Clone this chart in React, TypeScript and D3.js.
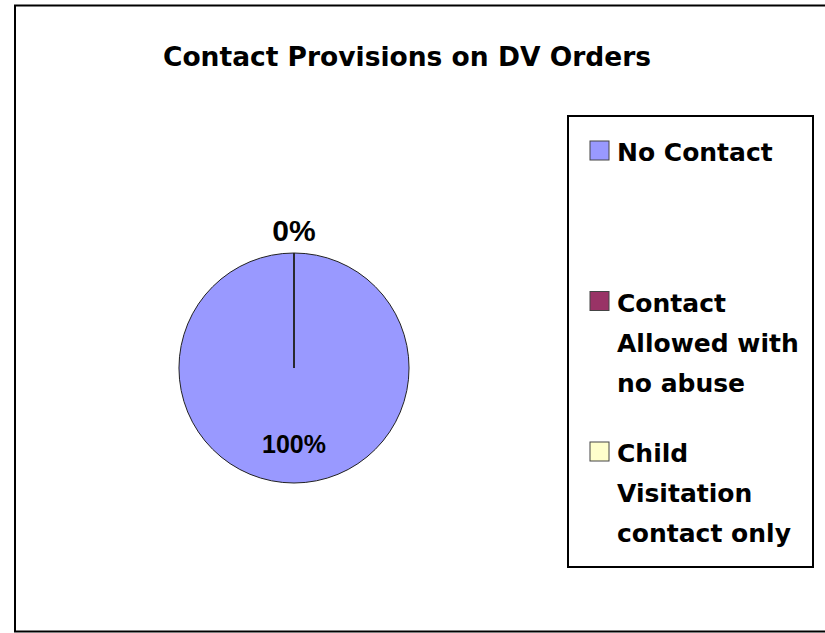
import { useEffect, useRef } from "react"
import * as d3 from "d3"

const categories = ["No Contact", "Contact Allowed with no abuse", "Child Visitation contact only"]
const legendLines = [["No Contact"], ["Contact", "Allowed with", "no abuse"], ["Child", "Visitation", "contact only"]]
const values = [100, 0, 0]
const colors = ["#9999FF", "#993366", "#FFFFCC"]
const title = "Contact Provisions on DV Orders"

export default function App() {
  const svgRef = useRef<SVGSVGElement>(null)

  useEffect(() => {
    if (!svgRef.current) return
    const width = 825
    const height = 633
    const svg = d3.select(svgRef.current)
    svg.selectAll("*").remove()
    svg.attr("width", width).attr("height", height)

    const comic = "'DejaVu Sans', sans-serif"

    // chart area border
    svg
      .append("rect")
      .attr("x", 15)
      .attr("y", 5.5)
      .attr("width", 830)
      .attr("height", 626)
      .attr("fill", "white")
      .attr("stroke", "black")
      .attr("stroke-width", 2)

    svg
      .append("text")
      .attr("x", 407)
      .attr("y", 66)
      .attr("text-anchor", "middle")
      .style("font-family", comic)
      .style("font-weight", "bold")
      .style("font-size", "26.5px")
      .text(title)

    // pie
    const cx = 294
    const cy = 368
    const r = 115
    const total = d3.sum(values)
    const pie = d3.pie<number>().sort(null).value((d) => d)
    const arcs = pie(values)
    const arc = d3.arc<d3.PieArcDatum<number>>().innerRadius(0).outerRadius(r)

    const g = svg.append("g").attr("transform", `translate(${cx},${cy})`)

    g.selectAll("path")
      .data(arcs)
      .enter()
      .append("path")
      .attr("d", arc)
      .attr("fill", (_, i) => colors[i])
      .attr("stroke", "#222")
      .attr("stroke-width", 1)

    // labels: big slices inside, empty slices outside (one label per position)
    const seen = new Set<string>()
    arcs.forEach((a) => {
      const mid = (a.startAngle + a.endAngle) / 2
      const pct = Math.round((a.value / total) * 100)
      const inside = a.endAngle - a.startAngle > 0.5
      const lr = inside ? r * 0.66 : r + 12
      const x = Math.sin(mid) * lr
      const y = -Math.cos(mid) * lr
      const key = `${x.toFixed(1)},${y.toFixed(1)}`
      if (seen.has(key)) return
      seen.add(key)
      g.append("text")
        .attr("x", x)
        .attr("y", y)
        .attr("dy", inside ? "0.35em" : "0")
        .attr("text-anchor", "middle")
        .style("font-family", "'Liberation Sans', Arial, sans-serif")
        .style("font-weight", "bold")
        .style("font-size", inside ? "25px" : "30px")
        .text(`${pct}%`)
    })

    // legend
    const legend = svg.append("g")
    legend
      .append("rect")
      .attr("x", 568)
      .attr("y", 116)
      .attr("width", 245)
      .attr("height", 451)
      .attr("fill", "white")
      .attr("stroke", "black")
      .attr("stroke-width", 2)

    const itemY = d3.scalePoint<string>().domain(categories).range([141, 442])

    categories.forEach((c, i) => {
      const y0 = itemY(c) || 0
      legend
        .append("rect")
        .attr("x", 590)
        .attr("y", y0)
        .attr("width", 19)
        .attr("height", 19)
        .attr("fill", colors[i])
        .attr("stroke", "#444")
        .attr("stroke-width", 1)
      legendLines[i].forEach((line, j) => {
        legend
          .append("text")
          .attr("x", 617)
          .attr("y", y0 + 20 + j * 40)
          .style("font-family", comic)
          .style("font-weight", "bold")
          .style("font-size", "25px")
          .text(line)
      })
    })
  }, [])

  return (
    <svg
      ref={svgRef}
      style={{ position: "absolute", left: 0, top: 0, display: "block", background: "white" }}
    />
  )
}
